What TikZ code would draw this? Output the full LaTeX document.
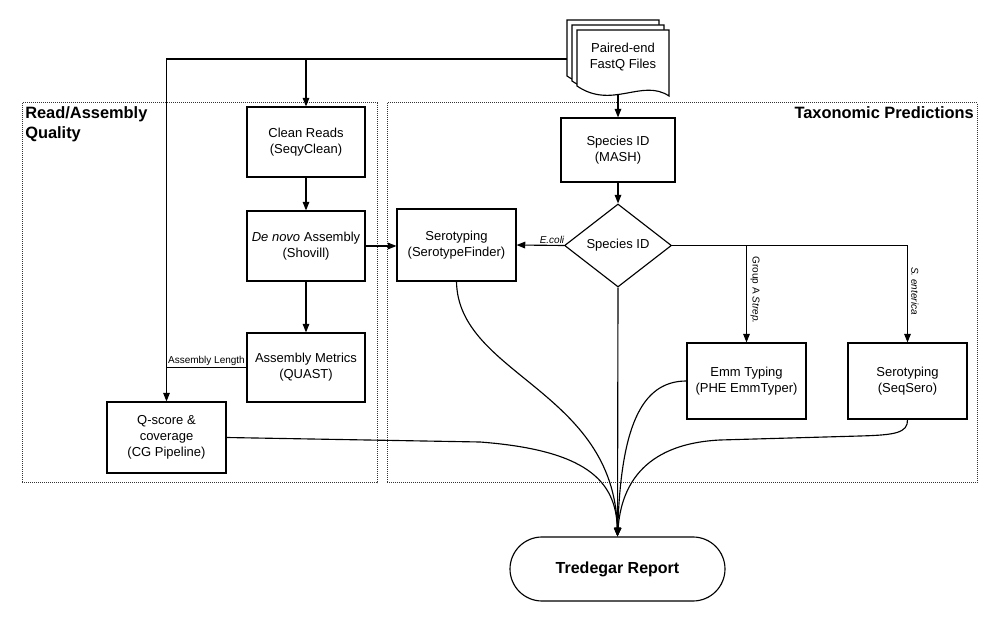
\documentclass[tikz,border=0pt]{standalone}
\usepackage{fontspec}
\setmainfont{Liberation Sans}
\usetikzlibrary{shapes.geometric,arrows.meta,calc}
\begin{document}
\begin{tikzpicture}[x=0.75pt,y=-0.75pt,
  box/.style={draw,line width=0.85pt,fill=white,align=center,inner sep=2pt,
    font=\fontsize{9.75}{12}\selectfont},
  arr/.style={line width=0.85pt,-{Triangle[length=6.5pt,width=5pt]}},
  ln/.style={line width=0.85pt},
  cont/.style={draw=black!80,line width=0.75pt,dash pattern=on 0.75pt off 0.75pt},
  small/.style={font=\fontsize{7.5}{9}\selectfont,inner sep=1pt},
  ttl/.style={font=\fontsize{12.3}{15}\selectfont\bfseries,inner sep=0pt,align=left}]
\useasboundingbox (0,0) rectangle (1000,623);

% containers
\draw[cont] (22,103) rectangle (377,483);
\draw[cont] (387,103) rectangle (977,483);
\node[ttl,anchor=north west] (t1) at (25,106) {Read/Assembly\\Quality};
\node[ttl,anchor=north east] (t2) at (974,106) {Taxonomic Predictions};

% document stack
\foreach \d in {10,5,0}{
  \draw[ln,fill=white,shift={(577-\d,30-\d)}] (0,0) -- (92,0) -- (92,66)
     .. controls (65,48) and (35,80) .. (0,56) -- cycle;
}
\node[align=center,font=\fontsize{9.75}{12}\selectfont,inner sep=0pt] (files) at (623,57.5) {Paired-end\\FastQ Files};
\coordinate (filesL) at (567,59);
\coordinate (filesB) at (618,94);

% boxes
\node[box,minimum width=88.5pt,minimum height=52.5pt] (clean) at (306,142) {Clean Reads\\(SeqyClean)};
\node[box,minimum width=88.5pt,minimum height=52.5pt] (denovo) at (306,246) {\textit{De novo} Assembly\\(Shovill)};
\node[box,minimum width=88.5pt,minimum height=51.75pt] (metrics) at (306,367.5) {Assembly Metrics\\(QUAST)};
\node[box,minimum width=89.25pt,minimum height=53.25pt] (qscore) at (166.5,437.5) {Q-score \&\\coverage\\(CG Pipeline)};
\node[box,minimum width=85.5pt,minimum height=48pt] (mash) at (618,150) {Species ID\\(MASH)};
\node[box,shape=diamond,aspect=1.29,minimum width=80.25pt,minimum height=62.25pt,inner sep=0pt] (sid) at (618,245.5) {Species ID};
\node[box,minimum width=89.25pt,minimum height=54pt] (stf) at (456.5,245) {Serotyping\\(SerotypeFinder)};
\node[box,minimum width=89.25pt,minimum height=57pt] (emm) at (746.5,381) {Emm Typing\\(PHE EmmTyper)};
\node[box,minimum width=89.25pt,minimum height=57pt] (seqsero) at (907.5,381) {Serotyping\\(SeqSero)};
\node[draw,line width=0.85pt,fill=white,rounded corners=24pt,minimum width=161.25pt,minimum height=48pt,
  font=\fontsize{12}{14}\selectfont\bfseries] (report) at (617.5,569) {Tredegar Report};

% connectors
\draw[arr] (filesL) -| (qscore.north);
\draw[arr] (clean.north |- filesL) -- (clean.north);
\draw[arr] (filesB) -- (mash.north);
\draw[arr] (clean.south) -- (denovo.north);
\draw[arr] (denovo.south) -- (metrics.north);
\draw[arr] (denovo.east) -- (stf.west |- denovo.east);
\draw[ln] (metrics.west) -- (qscore.north |- metrics.west)
  node[small,pos=0.5,above] (alen) {Assembly Length};
\draw[arr] (mash.south) -- (sid.north);
\draw[arr] (sid.west) -- (stf.east) node[small,pos=0.25,above] (ecoli) {\textit{E.coli}};
\draw[ln] (sid.east) -- (seqsero.north |- sid.east);
\draw[arr] (emm.north |- sid.east) -- (emm.north);
\draw[arr] (seqsero.north |- sid.east) -- (seqsero.north);
\node[small,rotate=-90] (gas) at (755,290) {Group A \textit{Strep.}};
\node[small,rotate=-90] (sent) at (915,291) {\textit{S. enterica}};
\draw[arr] (sid.south) -- (report.north);

% curved connectors into the report
\draw[arr] (qscore.east) -- (480,442) .. controls (585,450) and (616,480) .. (report.north);
\draw[arr] (stf.south) .. controls (458,375) and (614,390) .. (report.north);
\draw[arr] (emm.west) .. controls (640,381) and (621,430) .. (report.north);
\draw[arr] (seqsero.south) .. controls (908,433) and (895,435) .. (860,436)
  -- (720,440) .. controls (640,444) and (621,490) .. (report.north);
\end{tikzpicture}
\end{document}
